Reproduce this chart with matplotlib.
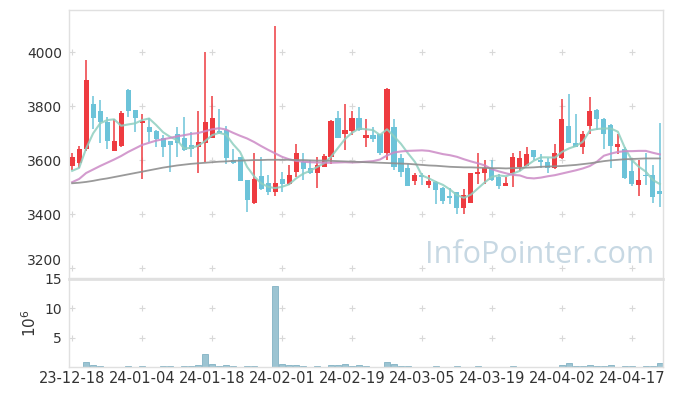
import matplotlib
matplotlib.use('Agg')
import matplotlib.pyplot as plt
import numpy as np

## data ##
tick_labels = ['23-12-18', '24-01-04', '24-01-18', '24-02-01', '24-02-19',
               '24-03-05', '24-03-19', '24-04-02', '24-04-17']

opens = [3579, 3590, 3640, 3807, 3782, 3742, 3635, 3653, 3859, 3785,
         3738, 3722, 3707, 3681, 3671, 3696, 3683, 3654, 3648, 3664,
         3683, 3707, 3711, 3600, 3612, 3526, 3440, 3542, 3514, 3483,
         3530, 3511, 3557, 3594, 3569, 3553, 3575, 3610, 3755, 3696,
         3709, 3755, 3683, 3693, 3695, 3625, 3721, 3606, 3569, 3523,
         3545, 3509, 3520, 3497, 3468, 3480, 3423, 3442, 3548, 3551,
         3569, 3538, 3505, 3551, 3575, 3579, 3637, 3600, 3591, 3569,
         3606, 3726, 3665, 3649, 3727, 3785, 3752, 3730, 3649, 3641,
         3559, 3507, 3545, 3545, 3485]
closes = [3612, 3641, 3896, 3757, 3742, 3672, 3670, 3774, 3783, 3757,
          3746, 3705, 3679, 3649, 3656, 3664, 3637, 3641, 3667, 3741,
          3755, 3699, 3609, 3590, 3523, 3452, 3530, 3491, 3483, 3514,
          3511, 3545, 3628, 3566, 3551, 3582, 3615, 3746, 3680, 3711,
          3755, 3711, 3693, 3678, 3627, 3865, 3575, 3554, 3505, 3545,
          3536, 3522, 3489, 3449, 3460, 3421, 3470, 3551, 3557, 3569,
          3526, 3505, 3516, 3612, 3608, 3622, 3612, 3594, 3569, 3625,
          3752, 3664, 3649, 3696, 3781, 3751, 3696, 3653, 3659, 3535,
          3510, 3526, 3541, 3464, 3475]
highs = [3625, 3652, 3970, 3837, 3822, 3758, 3751, 3783, 3862, 3787,
         3769, 3754, 3710, 3693, 3671, 3724, 3758, 3705, 3782, 3999,
         3839, 3788, 3726, 3640, 3612, 3527, 3625, 3612, 3545, 4096,
         3557, 3582, 3659, 3628, 3600, 3612, 3622, 3748, 3783, 3807,
         3783, 3797, 3751, 3721, 3697, 3867, 3753, 3622, 3585, 3551,
         3551, 3545, 3522, 3499, 3497, 3482, 3491, 3553, 3628, 3600,
         3600, 3548, 3538, 3628, 3633, 3649, 3639, 3622, 3606, 3658,
         3825, 3843, 3769, 3707, 3834, 3788, 3757, 3732, 3696, 3649,
         3600, 3600, 3625, 3582, 3738]
lows = [3565, 3569, 3635, 3714, 3665, 3640, 3634, 3649, 3758, 3705,
        3528, 3668, 3649, 3610, 3557, 3612, 3635, 3612, 3551, 3594,
        3680, 3697, 3585, 3585, 3523, 3409, 3438, 3490, 3470, 3467,
        3483, 3509, 3538, 3526, 3550, 3495, 3573, 3585, 3680, 3637,
        3693, 3709, 3649, 3668, 3618, 3600, 3565, 3538, 3504, 3507,
        3507, 3497, 3437, 3439, 3439, 3400, 3400, 3440, 3513, 3513,
        3523, 3491, 3505, 3501, 3559, 3578, 3600, 3569, 3551, 3567,
        3604, 3662, 3647, 3621, 3695, 3711, 3640, 3569, 3621, 3528,
        3505, 3468, 3507, 3442, 3425]

ma5 = [3560, 3571, 3643, 3699, 3736, 3748, 3751, 3727, 3732, 3736,
       3748, 3754, 3730, 3703, 3686, 3674, 3643, 3645, 3653, 3670,
       3692, 3701, 3694, 3659, 3630, 3575, 3540, 3514, 3501, 3496,
       3501, 3510, 3532, 3549, 3560, 3574, 3588, 3612, 3645, 3678,
       3701, 3717, 3714, 3711, 3693, 3714, 3688, 3660, 3625, 3593,
       3543, 3532, 3519, 3508, 3491, 3470, 3460, 3472, 3495, 3518,
       3538, 3543, 3540, 3550, 3560, 3580, 3598, 3610, 3610, 3609,
       3630, 3643, 3652, 3668, 3710, 3715, 3717, 3717, 3705, 3645,
       3600, 3575, 3557, 3526, 3511]
ma20 = [3518, 3530, 3552, 3565, 3578, 3590, 3602, 3615, 3630, 3643,
        3656, 3664, 3672, 3677, 3682, 3688, 3692, 3697, 3700, 3707,
        3714, 3718, 3713, 3701, 3690, 3680, 3667, 3652, 3638, 3625,
        3612, 3603, 3597, 3594, 3592, 3591, 3590, 3590, 3591, 3592,
        3591, 3592, 3594, 3596, 3602, 3617, 3628, 3632, 3634, 3635,
        3636, 3634, 3628, 3622, 3618, 3612, 3603, 3595, 3588, 3580,
        3566, 3558, 3551, 3545, 3543, 3534, 3532, 3535, 3540, 3544,
        3550, 3556, 3562, 3569, 3578, 3594, 3616, 3624, 3630, 3633,
        3633, 3634, 3634, 3627, 3621]
ma60 = [3514, 3516, 3519, 3523, 3528, 3532, 3537, 3542, 3547, 3552,
        3557, 3562, 3567, 3572, 3576, 3580, 3583, 3586, 3588, 3590,
        3592, 3594, 3595, 3597, 3598, 3599, 3600, 3600, 3601, 3601,
        3601, 3601, 3600, 3600, 3599, 3598, 3598, 3597, 3596, 3595,
        3594, 3593, 3592, 3591, 3590, 3589, 3588, 3587, 3586, 3584,
        3582, 3580, 3579, 3577, 3575, 3574, 3573, 3573, 3572, 3571,
        3570, 3570, 3569, 3570, 3571, 3572, 3573, 3575, 3576, 3577,
        3578, 3580, 3582, 3585, 3588, 3592, 3596, 3599, 3601, 3603,
        3604, 3605, 3606, 3606, 3606]

# volume in millions
volume = [0.03, 0.03, 0.85, 0.3, 0.12, 0.03, 0.03, 0.03, 0.1, 0.03,
          0.1, 0.03, 0.03, 0.1, 0.1, 0.03, 0.1, 0.1, 0.3, 2.25,
          0.45, 0.15, 0.35, 0.15, 0.03, 0.1, 0.1, 0.03, 0.03, 13.75,
          0.45, 0.35, 0.35, 0.1, 0.03, 0.1, 0.03, 0.3, 0.3, 0.45,
          0.1, 0.3, 0.1, 0.03, 0.03, 0.85, 0.45, 0.1, 0.1, 0.03,
          0.03, 0.03, 0.1, 0.03, 0.03, 0.1, 0.03, 0.03, 0.1, 0.03,
          0.03, 0.03, 0.03, 0.1, 0.03, 0.03, 0.03, 0.03, 0.03, 0.03,
          0.3, 0.7, 0.1, 0.1, 0.3, 0.1, 0.1, 0.3, 0.03, 0.1,
          0.1, 0.03, 0.1, 0.1, 0.7]

## plot ##
RED = '#ee3b40'
BLUE = '#6cc3d9'
GRID = '#d8d8d8'
TXT = '#333333'

o = np.array(opens)
c = np.array(closes)
x = np.arange(len(o))
up = c >= o
col = np.where(up, RED, BLUE)

fig = plt.figure(figsize=(6.73, 3.96), dpi=100)
ax = fig.add_axes([69/673, 1-278/396, (663-69)/673, (278-10)/396])
axv = fig.add_axes([69/673, 1-367/396, (663-69)/673, (367-279)/396])

# candles
ax.vlines(x, lows, highs, colors=col, linewidth=1.1, zorder=2)
ax.bar(x, np.maximum(np.abs(c-o), 2), bottom=np.minimum(o, c), width=0.72,
       color=col, linewidth=0, zorder=3)

# moving averages
ax.plot(x, ma5, color='#8fcfc0', lw=1.5, alpha=0.85, zorder=4)
ax.plot(x, ma20, color='#cc8ac6', lw=1.5, alpha=0.85, zorder=4)
ax.plot(x, ma60, color='#8f8f8f', lw=1.3, alpha=0.9, zorder=4)

xticks = np.arange(0, 90, 10)
yticks = [3200, 3400, 3600, 3800, 4000]
ax.set_xlim(-0.45, 84.45)
ax.set_ylim(3163, 4156)
ax.set_yticks(yticks)
ax.set_xticks(xticks)
ax.set_xticklabels([])
gx, gy = np.meshgrid(xticks, yticks)
ax.scatter(gx.ravel(), gy.ravel(), marker='+', s=18, color=GRID, lw=0.8, zorder=1)

ax.text(0.985, 0.03, 'InfoPointer.com', transform=ax.transAxes, ha='right', va='bottom',
        fontsize=22, color='#c7d8e3', family='Open Sans', zorder=0)

# volume
axv.bar(x, volume, width=0.85, color='#9cc4d2', edgecolor='#82b2c4', linewidth=0.6)
axv.set_xlim(-0.45, 84.45)
axv.set_ylim(0, 15)
axv.set_yticks([5, 10, 15])
axv.set_xticks(xticks)
axv.set_xticklabels(tick_labels)
axv.set_ylabel(r'$10^6$', color=TXT, fontsize=11, labelpad=4)
gx, gy = np.meshgrid(xticks, [5, 10])
axv.scatter(gx.ravel(), gy.ravel(), marker='+', s=18, color=GRID, lw=0.8, zorder=0)

for a in (ax, axv):
    for s in a.spines.values():
        s.set_color('#e0e0e0')
        s.set_linewidth(1)
    a.tick_params(length=0, labelsize=10, colors=TXT, pad=5)
axv.spines['top'].set_linewidth(2)
axv.tick_params(axis='x', pad=3, labelsize=10.5)
# keep the bottom price label clear of the volume scale
ax.get_yticklabels()[0].set_verticalalignment('bottom')

fig.savefig('out.png', dpi=100)
